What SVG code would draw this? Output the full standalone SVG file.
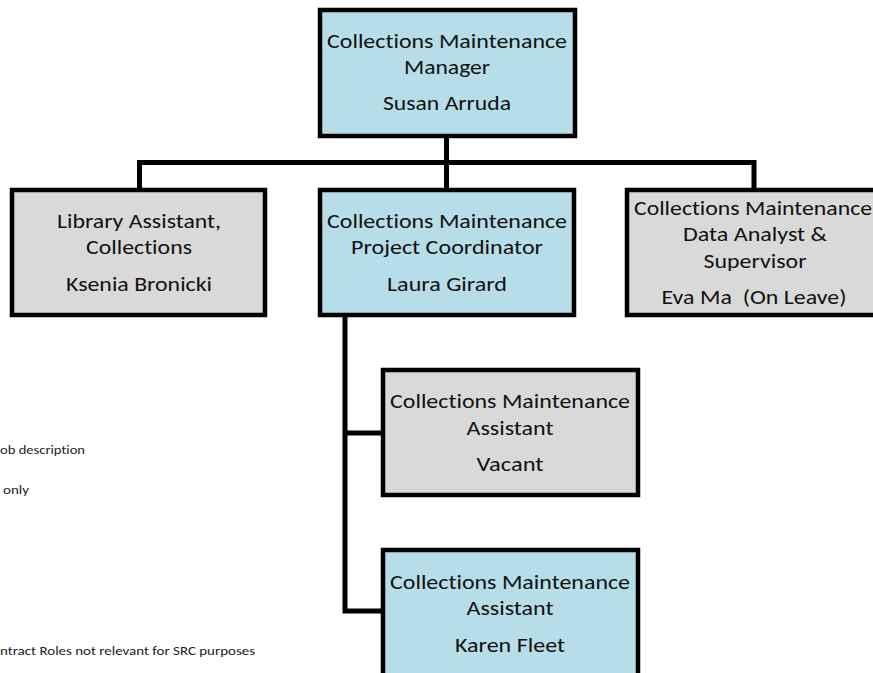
<svg xmlns="http://www.w3.org/2000/svg" width="873" height="673" viewBox="0 0 873 673">
  <style>
    .box rect { stroke: #000; stroke-width: 4.5; }
    .blue { fill: #b7dde8; }
    .grey { fill: #d9d9d9; }
    .lbl { font-family: Carlito, Lato, "Liberation Sans", sans-serif; font-size: 21px; fill: #111; text-anchor: middle; font-variant-ligatures: none; }
    .note { font-family: Carlito, Lato, "Liberation Sans", sans-serif; font-size: 13px; fill: #222; font-variant-ligatures: none; }
    .conn { fill: none; stroke: #000; stroke-width: 5; stroke-linejoin: miter; }
  </style>
  <rect width="873" height="673" fill="#fff"/>

  <!-- side notes -->
  <g id="notes">
    <text class="note" x="0" y="454" textLength="85" lengthAdjust="spacingAndGlyphs">ob description</text>
    <text class="note" x="3" y="494" textLength="26" lengthAdjust="spacingAndGlyphs">only</text>
    <text class="note" x="0" y="655" textLength="255" lengthAdjust="spacingAndGlyphs">ntract Roles not relevant for SRC purposes</text>
  </g>

  <!-- reporting lines -->
  <g id="connectors">
    <path class="conn" d="M446.5 136 V190"/>
    <path class="conn" d="M139.5 190 V162.5 H754 V190"/>
    <path class="conn" d="M345 315 V611 H383"/>
    <path class="conn" d="M345 433 H383"/>
  </g>

  <g id="manager" class="box">
    <rect class="blue" x="320" y="10" width="255" height="126"/>
    <text class="lbl" x="447" y="48" textLength="240" lengthAdjust="spacingAndGlyphs">Collections Maintenance</text>
    <text class="lbl" x="447" y="74" textLength="86" lengthAdjust="spacingAndGlyphs">Manager</text>
    <text class="lbl" x="447" y="110" textLength="128" lengthAdjust="spacingAndGlyphs">Susan Arruda</text>
  </g>

  <g id="library-assistant" class="box">
    <rect class="grey" x="12" y="190" width="253" height="125"/>
    <text class="lbl" x="139" y="228" textLength="164" lengthAdjust="spacingAndGlyphs">Library Assistant,</text>
    <text class="lbl" x="139" y="254" textLength="106" lengthAdjust="spacingAndGlyphs">Collections</text>
    <text class="lbl" x="139" y="291" textLength="146" lengthAdjust="spacingAndGlyphs">Ksenia Bronicki</text>
  </g>

  <g id="project-coordinator" class="box">
    <rect class="blue" x="320" y="190" width="254" height="125"/>
    <text class="lbl" x="447" y="228" textLength="240" lengthAdjust="spacingAndGlyphs">Collections Maintenance</text>
    <text class="lbl" x="447" y="254" textLength="192" lengthAdjust="spacingAndGlyphs">Project Coordinator</text>
    <text class="lbl" x="447" y="291" textLength="120" lengthAdjust="spacingAndGlyphs">Laura Girard</text>
  </g>

  <g id="data-analyst" class="box">
    <rect class="grey" x="627" y="190" width="256" height="125"/>
    <text class="lbl" x="753" y="215" textLength="238" lengthAdjust="spacingAndGlyphs">Collections Maintenance</text>
    <text class="lbl" x="755" y="241" textLength="144" lengthAdjust="spacingAndGlyphs">Data Analyst &amp;</text>
    <text class="lbl" x="755" y="268" textLength="103" lengthAdjust="spacingAndGlyphs">Supervisor</text>
    <text class="lbl" x="754" y="304" textLength="185" lengthAdjust="spacingAndGlyphs" xml:space="preserve">Eva Ma  (On Leave)</text>
  </g>

  <g id="assistant-vacant" class="box">
    <rect class="grey" x="383" y="370" width="255" height="125"/>
    <text class="lbl" x="510" y="408" textLength="240" lengthAdjust="spacingAndGlyphs">Collections Maintenance</text>
    <text class="lbl" x="510" y="435" textLength="87" lengthAdjust="spacingAndGlyphs">Assistant</text>
    <text class="lbl" x="510" y="471" textLength="67" lengthAdjust="spacingAndGlyphs">Vacant</text>
  </g>

  <g id="assistant-fleet" class="box">
    <rect class="blue" x="383" y="550" width="255" height="140"/>
    <text class="lbl" x="510" y="589" textLength="240" lengthAdjust="spacingAndGlyphs">Collections Maintenance</text>
    <text class="lbl" x="510" y="615" textLength="87" lengthAdjust="spacingAndGlyphs">Assistant</text>
    <text class="lbl" x="510" y="652" textLength="110" lengthAdjust="spacingAndGlyphs">Karen Fleet</text>
  </g>
</svg>
